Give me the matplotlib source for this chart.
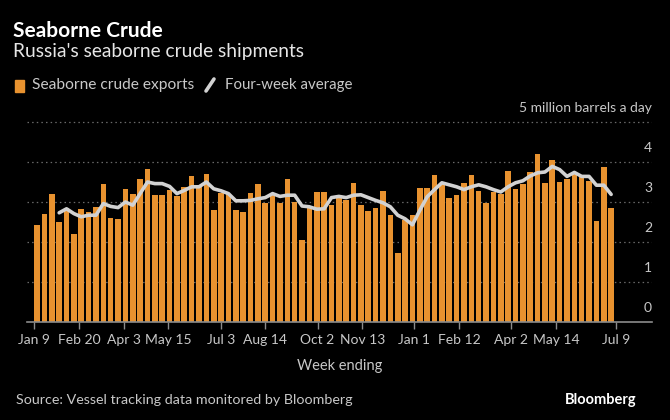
import matplotlib.pyplot as plt
from matplotlib.lines import Line2D
from matplotlib.patches import Rectangle

# weekly seaborne crude exports, million barrels a day (Jan 9 2022 .. Jul 9 2023)
exports = [2.43, 2.71, 3.21, 2.51, 2.85, 2.21, 2.83, 2.76, 2.87, 3.44,
           2.61, 2.58, 3.33, 3.19, 3.58, 3.83, 3.17, 3.18, 3.30, 3.15,
           3.38, 3.66, 3.40, 3.69, 2.81, 3.23, 3.21, 2.81, 2.76, 3.23,
           3.45, 2.98, 3.17, 2.97, 3.58, 3.01, 2.04, 2.85, 3.25, 3.25,
           2.93, 3.10, 3.06, 3.48, 2.93, 2.78, 2.86, 3.27, 2.67, 1.73,
           2.55, 2.68, 3.35, 3.35, 3.68, 3.46, 3.10, 3.18, 3.48, 3.67,
           3.28, 2.98, 3.25, 3.21, 3.78, 3.33, 3.46, 3.75, 4.19, 3.48,
           4.06, 3.51, 3.58, 3.69, 3.63, 3.53, 2.53, 3.88, 2.84]

# four-week average, starts at the 4th week
avg_start = 3
four_week_avg = [2.73, 2.83, 2.71, 2.63, 2.67, 2.67, 2.96, 2.89, 2.86, 3.00,
                 2.92, 3.21, 3.50, 3.46, 3.46, 3.39,
                 3.21, 3.29, 3.38, 3.38, 3.50, 3.33, 3.28, 3.21, 3.03, 3.03,
                 3.04, 3.08, 3.11, 3.21, 3.14, 3.17, 3.17, 2.90, 2.88, 2.82,
                 2.83, 3.11, 3.14, 3.11, 3.17, 3.18, 3.11, 3.04, 2.98, 2.88,
                 2.67, 2.58, 2.43, 2.79, 3.13, 3.31, 3.48, 3.43, 3.38, 3.31,
                 3.38, 3.43, 3.38, 3.31, 3.25, 3.38, 3.48, 3.53, 3.65, 3.73,
                 3.75, 3.89, 3.81, 3.64, 3.74, 3.64, 3.64, 3.42, 3.42, 3.19]

tick_weeks = [0, 6, 12, 18, 25, 31, 38, 44, 51, 57, 64, 70, 78]
tick_labels = ['Jan 9', 'Feb 20', 'Apr 3', 'May 15', 'Jul 3', 'Aug 14', 'Oct 2',
               'Nov 13', 'Jan 1', 'Feb 12', 'Apr 2', 'May 14', 'Jul 9']
y_labels = ['0', '1', '2', '3', '4', '5 million barrels a day']

bar_color = '#e8922f'
line_color = '#d2d2d2'
text_grey = '#c8c8c8'

plt.rcParams['font.family'] = ['Lato', 'DejaVu Sans']

W, H = 670, 420
fig = plt.figure(figsize=(6.7, 4.2), dpi=100, facecolor='black')


def fx(x):
    return x / W


def fy(y):
    return 1 - y / H


# axes placed in pixels: x from 27 to 652, value 0 at y=322, 40 px per unit
ymax = 5.2
ax = fig.add_axes([fx(27), fy(322), (652 - 27) / W, ymax * 40 / H])
ax.set_facecolor('black')

n = len(exports)
band = 581.4 / n
xs = list(range(n))
ax.bar(xs, exports, width=0.76, align='edge', color=bar_color, zorder=2)
line_x = [i + 0.38 for i in range(avg_start, n)]
ax.plot(line_x, four_week_avg, color=line_color, lw=2.6, zorder=3,
        solid_joinstyle='round', solid_capstyle='round')

xmin = -(34.3 - 27) / band
xmax = n + (652 - 615.7) / band
ax.set_xlim(xmin, xmax)
ax.set_ylim(0, ymax)

for v in range(1, 6):
    ax.axhline(v, color='#6a6a6a', lw=0.9, linestyle=(0, (1.2, 2.5)), zorder=1)
ax.axhline(0, color='#8c8c8c', lw=1.2, zorder=4, clip_on=False)

for sp in ax.spines.values():
    sp.set_visible(False)

ax.set_xticks([w * n / 78 for w in tick_weeks])
ax.set_xticklabels(tick_labels)
ax.tick_params(axis='x', direction='out', length=5, width=1, color='#8c8c8c',
               labelcolor=text_grey, labelsize=10, pad=4)
ax.set_yticks([])

for v, lab in enumerate(y_labels):
    ax.text(xmax, v + 0.36, lab, ha='right', va='center', color=text_grey,
            fontsize=10)

ax.set_xlabel('Week ending', color=text_grey, fontsize=10.5, labelpad=9)

# titles and legend
fig.text(fx(13), fy(31), 'Seaborne Crude', color='white', fontsize=15,
         fontweight='bold', va='center', ha='left')
fig.text(fx(13), fy(52), "Russia's seaborne crude shipments", color='#e6e6e6',
         fontsize=13.8, va='center', ha='left')

fig.patches.append(Rectangle((fx(15), fy(92)), 9 / W, 12 / H,
                             transform=fig.transFigure, color=bar_color))
fig.text(fx(32), fy(85), 'Seaborne crude exports', color=text_grey,
         fontsize=11.2, va='center', ha='left')
fig.lines.append(Line2D([fx(206), fx(214)], [fy(91), fy(79)],
                        transform=fig.transFigure, color=line_color, lw=2.6,
                        solid_capstyle='round'))
fig.text(fx(225), fy(85), 'Four-week average', color=text_grey,
         fontsize=10.8, va='center', ha='left')

fig.text(fx(16), fy(400), 'Source: Vessel tracking data monitored by Bloomberg',
         color=text_grey, fontsize=10.25, va='center', ha='left')
fig.text(fx(636), fy(400), 'Bloomberg', color='white', fontsize=10.5,
         fontweight='bold', va='center', ha='right')

fig.savefig('out.png', dpi=100, facecolor='black')
